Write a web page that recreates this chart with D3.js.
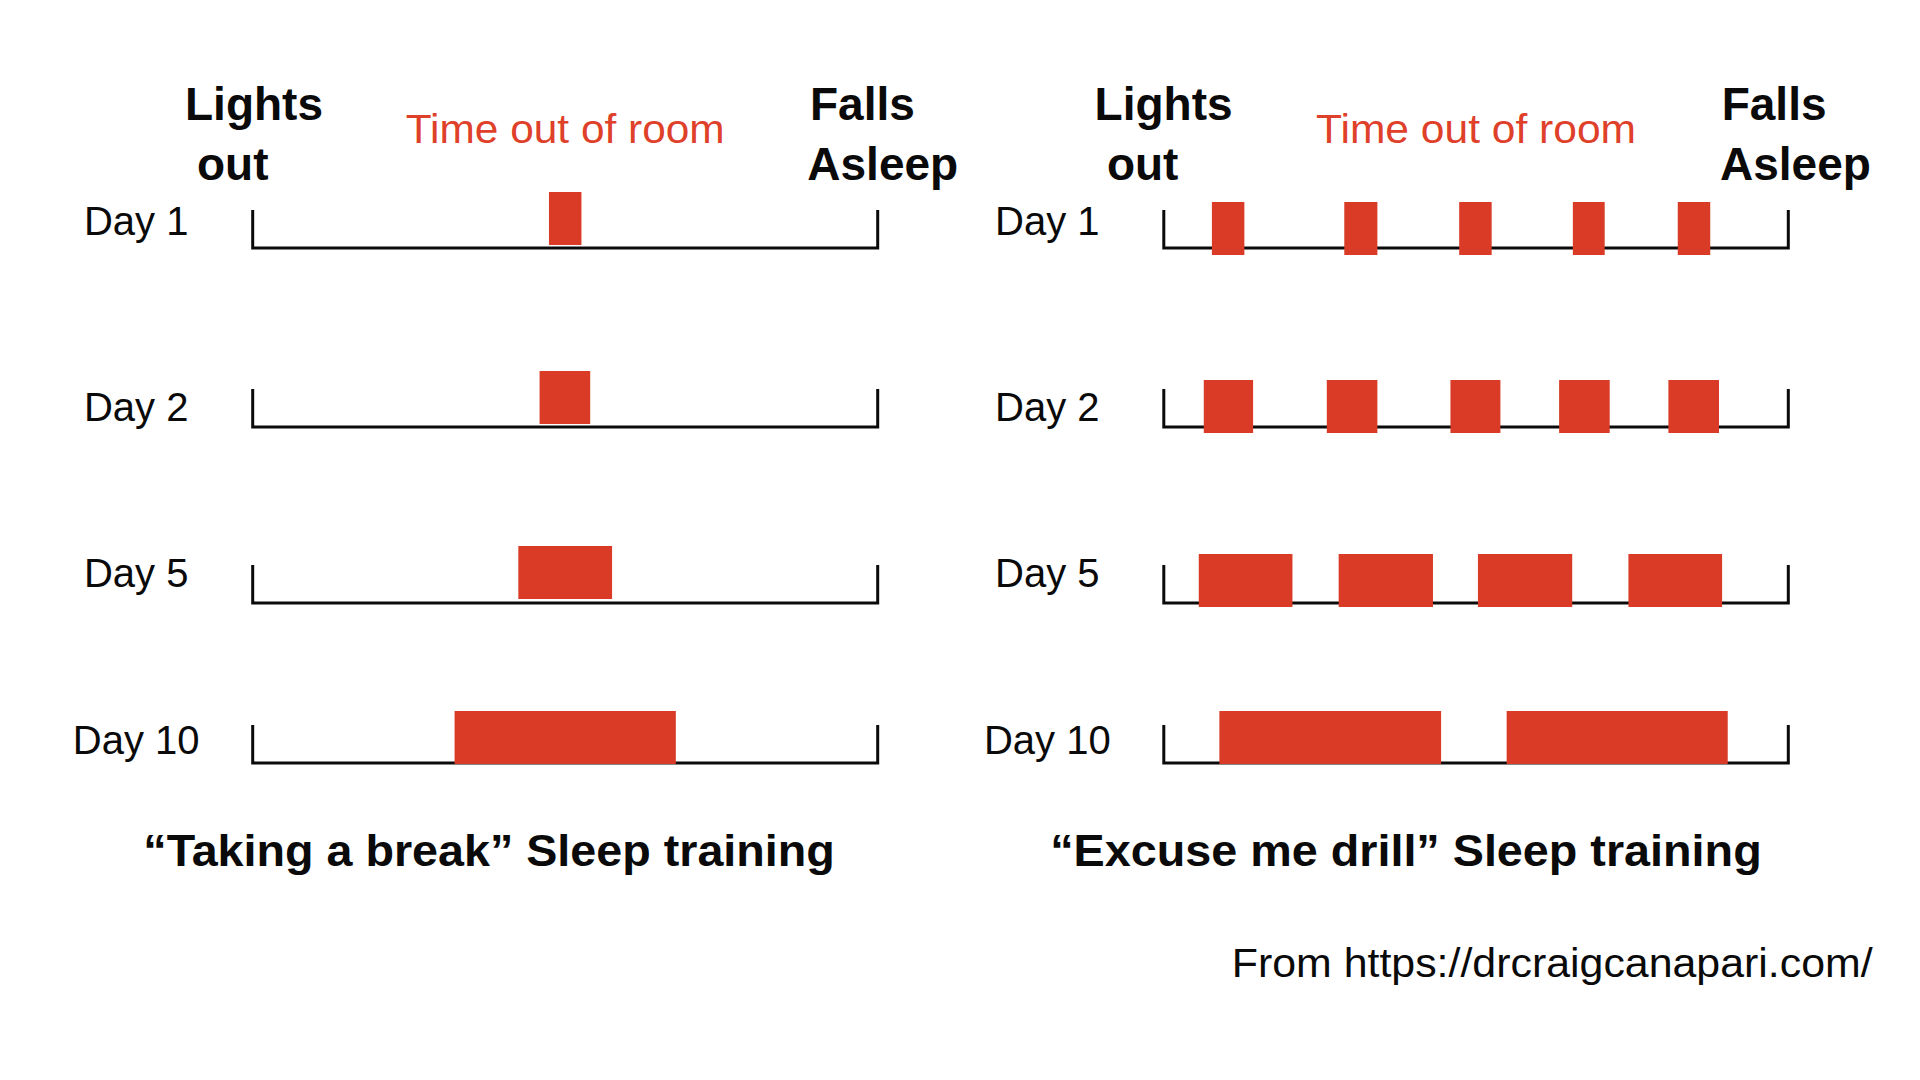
<!DOCTYPE html>
<html>
<head>
<meta charset="utf-8">
<script src="https://cdn.jsdelivr.net/npm/d3@7/dist/d3.min.js"></script>
<style>
  html, body { margin: 0; padding: 0; background: #ffffff; }
  svg { display: block; }
  text { font-family: "Liberation Sans", Arial, Helvetica, sans-serif; }
</style>
</head>
<body>
<svg id="chart" width="1920" height="1080"></svg>
<script>
// ---------- data ----------
const days = ["Day 1", "Day 2", "Day 5", "Day 10"];
// time axis: 0 = lights out, 100 = falls asleep
const breakIntervals = [
  [[47.4, 52.6]],
  [[45.9, 54.0]],
  [[42.5, 57.5]],
  [[32.3, 67.7]]
];
const drillIntervals = [
  [[7.7, 12.9], [28.9, 34.2], [47.3, 52.5], [65.5, 70.6], [82.3, 87.5]],
  [[6.4, 14.3], [26.1, 34.2], [45.9, 53.9], [63.3, 71.4], [80.8, 88.9]],
  [[5.6, 20.6], [28.0, 43.1], [50.3, 65.4], [74.4, 89.4]],
  [[8.9, 44.4], [54.9, 90.3]]
];
const panelTitles = ["\u201CTaking a break\u201D Sleep training", "\u201CExcuse me drill\u201D Sleep training"];
const startLabel = ["Lights", "out"];
const endLabel = ["Falls", "Asleep"];
const middleLabel = "Time out of room";
const sourceNote = "From https://drcraigcanapari.com/";

// ---------- layout ----------
const RED_BAR = "#D93B27";
const RED_TEXT = "#DF4029";
const INK = "#0a0a0a";
const rowBaselines = [248, 427, 603, 763];
const labelLift = [13, 6, 16, 9];
const tickH = 38;
const barH = 53;
const panels = [
  { intervals: breakIntervals, x0: 252.7, x1: 877.7, barShift: [-3, -3, -4, 1],
    title: panelTitles[0], titleX: 143.3, titleW: 691.5,
    lightsX: [185, 197], fallsX: [810, 807.3], midW: 319 },
  { intervals: drillIntervals, x0: 1163.8, x1: 1788.3, barShift: [7, 6, 4, 1],
    title: panelTitles[1], titleX: 1050.2, titleW: 711.5,
    lightsX: [1094.6, 1106.9], fallsX: [1721.7, 1720], midW: 320 }
];

const svg = d3.select("#chart");
const y = d3.scaleOrdinal().domain(days).range(rowBaselines);

panels.forEach((p) => {
  const x = d3.scaleLinear().domain([0, 100]).range([p.x0, p.x1]);
  const g = svg.append("g");

  const bold = (tx, ty, s) => g.append("text").attr("x", tx).attr("y", ty)
    .attr("font-size", 46).attr("font-weight", "bold").attr("fill", INK).text(s);
  // header labels
  bold(p.lightsX[0], 120, startLabel[0]);
  bold(p.lightsX[1], 179.5, startLabel[1]);
  bold(p.fallsX[0], 120, endLabel[0]);
  bold(p.fallsX[1], 179.5, endLabel[1]);
  g.append("text")
    .attr("x", x(50) - p.midW / 2).attr("y", 142.5)
    .attr("font-size", 41).attr("fill", RED_TEXT)
    .attr("textLength", p.midW).attr("lengthAdjust", "spacingAndGlyphs")
    .text(middleLabel);

  // rows
  days.forEach((d, i) => {
    const by = y(d);
    // day label
    g.append("text")
      .attr("x", x(0) - 116.5).attr("y", by - labelLift[i])
      .attr("text-anchor", "middle")
      .attr("font-size", 40).attr("fill", INK)
      .text(d);
    // axis bracket
    g.append("path")
      .attr("d", `M${x(0)},${by - tickH}V${by}H${x(100)}V${by - tickH}`)
      .attr("fill", "none").attr("stroke", INK).attr("stroke-width", 3)
      .attr("stroke-linejoin", "miter");
    // bars
    g.selectAll(null).data(p.intervals[i]).enter().append("rect")
      .attr("x", iv => x(iv[0]))
      .attr("width", iv => x(iv[1]) - x(iv[0]))
      .attr("y", by + p.barShift[i] - barH)
      .attr("height", barH)
      .attr("fill", RED_BAR);
  });

  // panel title
  g.append("text")
    .attr("x", p.titleX).attr("y", 866)
    .attr("font-size", 44).attr("font-weight", "bold").attr("fill", INK)
    .attr("textLength", p.titleW).attr("lengthAdjust", "spacingAndGlyphs")
    .text(p.title);
});

svg.append("text")
  .attr("x", 1231.7).attr("y", 977)
  .attr("font-size", 41).attr("fill", INK)
  .attr("textLength", 641).attr("lengthAdjust", "spacingAndGlyphs")
  .text(sourceNote);
</script>
</body>
</html>
